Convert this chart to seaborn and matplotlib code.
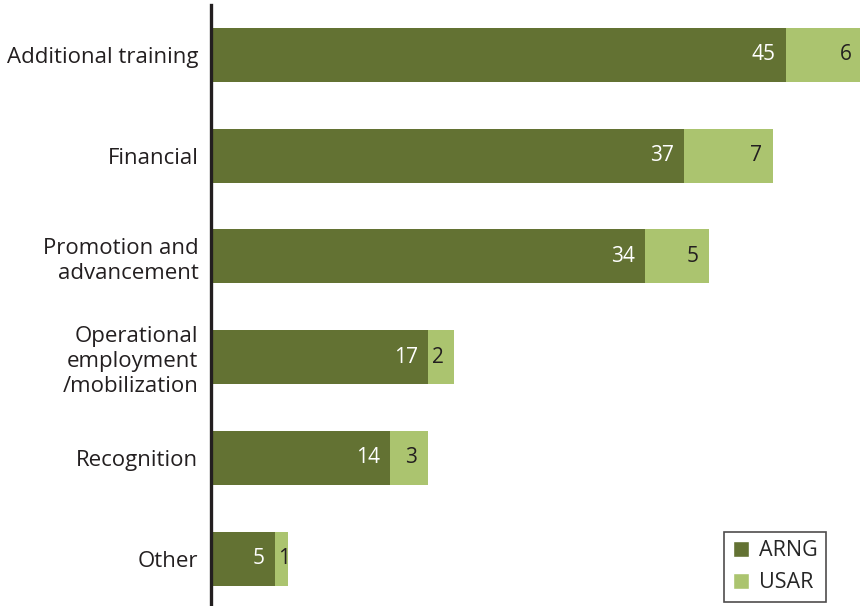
import matplotlib
matplotlib.use("Agg")
import matplotlib.pyplot as plt
from matplotlib.patches import Patch
import seaborn as sns
import pandas as pd

categories = ["Additional training", "Financial", "Promotion and\nadvancement",
              "Operational\nemployment\n/mobilization", "Recognition", "Other"]
arng = [45, 37, 34, 17, 14, 5]
usar = [6, 7, 5, 2, 3, 1]

dark = "#637233"
light = "#abc46f"

df = pd.DataFrame({"category": categories, "ARNG": arng, "USAR": usar})
df["total"] = df["ARNG"] + df["USAR"]

sns.set_style("white")
plt.rcParams["font.family"] = ["Open Sans", "DejaVu Sans"]

fig = plt.figure(figsize=(8.6, 6.06), dpi=100)
ax = fig.add_axes([211 / 860, -0.005, 1 - 211 / 860, 0.9975])

sns.barplot(data=df, x="total", y="category", color=light, width=0.535,
            orient="h", ax=ax, saturation=1, linewidth=0)
sns.barplot(data=df, x="ARNG", y="category", color=dark, width=0.535,
            orient="h", ax=ax, saturation=1, linewidth=0)

# value labels: ARNG right-aligned inside dark bar, USAR near the end of its segment
for i, (a, u) in enumerate(zip(arng, usar)):
    ax.annotate(str(a), (a, i), xytext=(-7.2, 0), textcoords="offset points",
                color="white", ha="right", va="center", fontsize=15,
                annotation_clip=False)
    if u <= 2:
        ax.annotate(str(u), (a, i), xytext=(2.5, 0), textcoords="offset points",
                    color="#231f20", ha="left", va="center", fontsize=15,
                    annotation_clip=False)
    else:
        ax.annotate(str(u), (a + u, i), xytext=(-8, 0), textcoords="offset points",
                    color="#231f20", ha="right", va="center", fontsize=15,
                    annotation_clip=False)

ax.set_xlim(0, 50.8)
ax.set_ylim(5.5, -0.5)
ax.set_xlabel("")
ax.set_ylabel("")
ax.set_xticks([])
ax.tick_params(axis="y", length=0, pad=9, labelsize=16, labelcolor="#231f20")
for lbl in ax.get_yticklabels():
    lbl.set_horizontalalignment("right")
    lbl.set_multialignment("right")
    lbl.set_linespacing(1.25)
for s in ["top", "right", "bottom"]:
    ax.spines[s].set_visible(False)
ax.spines["left"].set_color("#231f20")
ax.spines["left"].set_linewidth(2.4)

handles = [Patch(facecolor=dark, label="ARNG"), Patch(facecolor=light, label="USAR")]
leg = ax.legend(handles=handles, loc="lower right", bbox_to_anchor=((826 - 211) / 649, 0.012),
                frameon=True, fancybox=False, fontsize=15.5, handlelength=0.75, handleheight=0.75,
                handletextpad=0.45, borderpad=0.4, labelspacing=0.5, edgecolor="#231f20",
                borderaxespad=0)
leg.get_frame().set_linewidth(1.2)

fig.savefig("out.png", dpi=100)
